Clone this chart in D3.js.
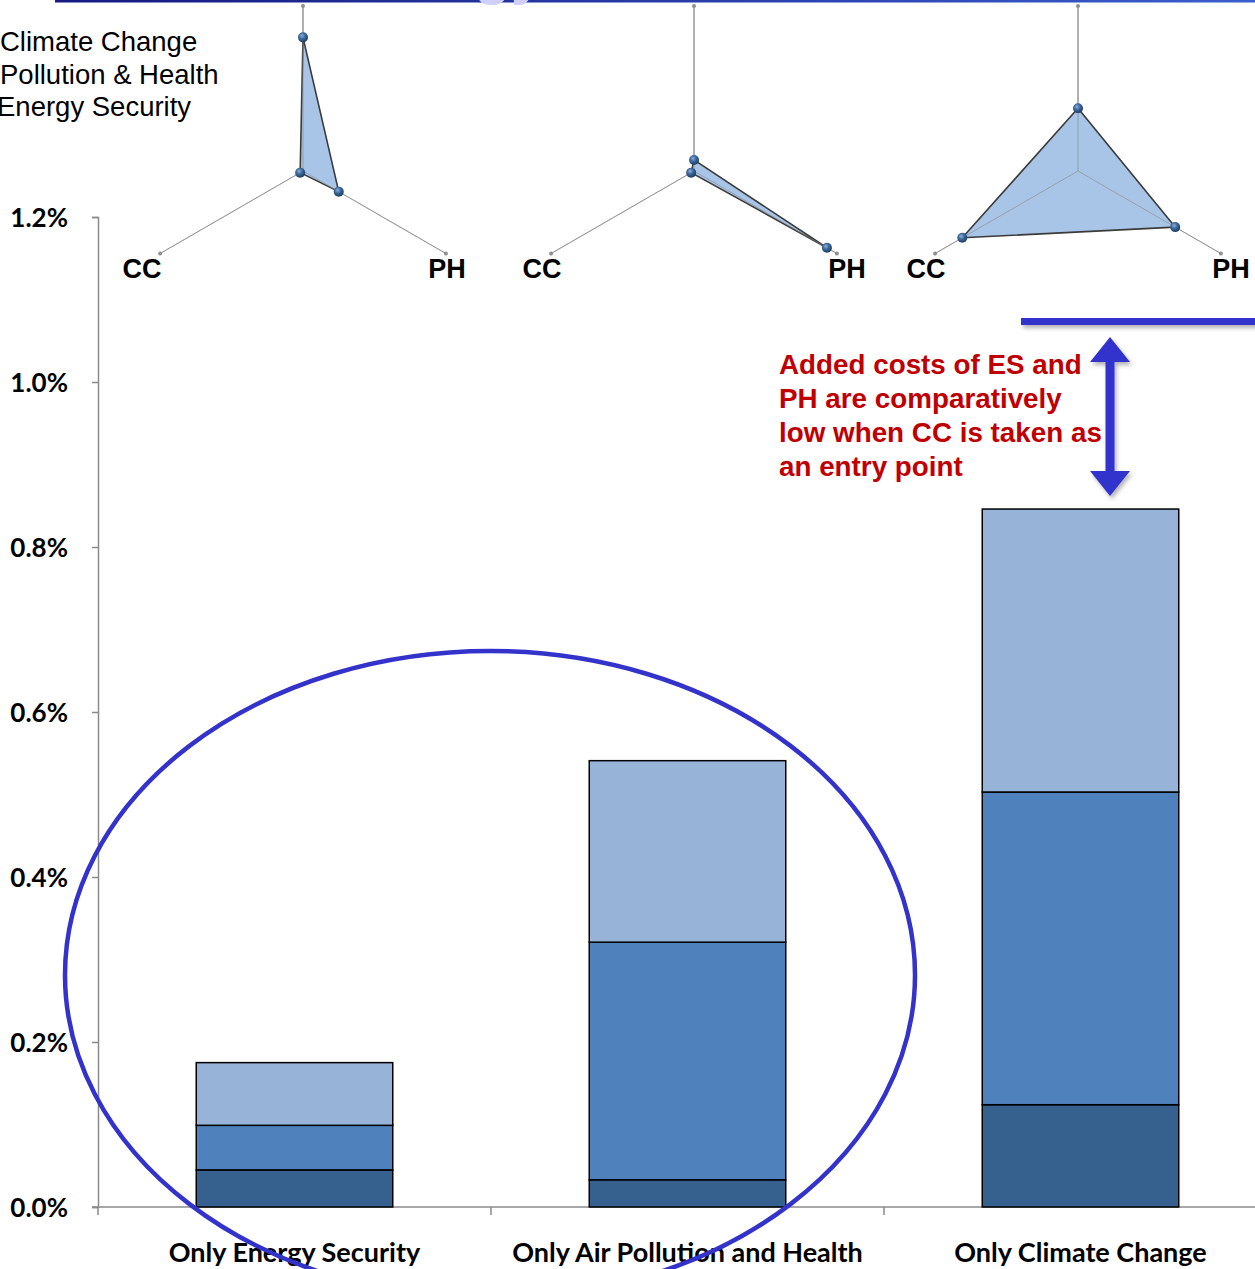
<!DOCTYPE html>
<html>
<head>
<meta charset="utf-8">
<script src="https://cdn.jsdelivr.net/npm/d3@7"></script>
<style>
  html, body { margin: 0; padding: 0; background: #fff; overflow: hidden; }
  svg { display: block; }
</style>
</head>
<body>
<svg id="chart" width="1255" height="1269"></svg>
<script>
// ---- data (values in % of GDP) ----
var categories = ["Only Energy Security", "Only Air Pollution and Health", "Only Climate Change"];
var costBottom = [0.045, 0.033, 0.124];
var costMiddle = [0.054, 0.288, 0.379];
var costTop    = [0.076, 0.220, 0.343];
var yTicks = [0, 0.2, 0.4, 0.6, 0.8, 1.0, 1.2];

// radar insets, share of the axis length
var radarES = [0.81, 0.067, 0.38];
var radarPH = [0.25, 0.93, 0.68];
var radarCC = [0.02, 0.02, 0.81];
var radarLabels = ["CC", "PH"];

var legendItems = ["Climate Change", "Pollution & Health", "Energy Security"];
var noteLines = ["Added costs of ES and", "PH are comparatively", "low when CC is taken as", "an entry point"];

var segColors = ["#36618f", "#4f81bd", "#97b4d8"];
var annotBlue = "#3333cc";

// inset placement (layout, not data)
var radarCx = [303, 694, 1078];
var radarCy = 171;
var labelCC = [142, 542, 926];
var labelPH = [447, 847, 1231];

var svg = d3.select("#chart");
var defs = svg.append("defs");

var grad = defs.append("linearGradient").attr("id", "topline");
grad.append("stop").attr("offset", "0%").attr("stop-color", "#141a80");
grad.append("stop").attr("offset", "100%").attr("stop-color", "#3a5dcf");

var ball = defs.append("radialGradient").attr("id", "ball")
    .attr("cx", "40%").attr("cy", "35%").attr("r", "65%");
ball.append("stop").attr("offset", "0%").attr("stop-color", "#8fb0d8");
ball.append("stop").attr("offset", "45%").attr("stop-color", "#3e6a9e");
ball.append("stop").attr("offset", "100%").attr("stop-color", "#1d3c63");

var shadow = defs.append("filter").attr("id", "shadow")
    .attr("x", "-20%").attr("y", "-50%").attr("width", "140%").attr("height", "200%");
shadow.append("feDropShadow").attr("dx", 2).attr("dy", 3).attr("stdDeviation", 2)
    .attr("flood-color", "#000").attr("flood-opacity", 0.3);

// ---- header remnants ----
svg.append("rect").attr("x", 55).attr("y", 0).attr("width", 1200).attr("height", 2.5)
    .attr("fill", "url(#topline)");
svg.append("text").attr("x", 474).attr("y", -7)
    .attr("font-family", "Liberation Sans, Arial").attr("font-weight", "bold")
    .attr("font-size", 60).attr("fill", "#cfcffa").text("gy");

// legend (cut by left edge)
svg.append("g").selectAll("text").data(legendItems).join("text")
    .attr("x", function (d, i) { return i === 2 ? -3 : 0; })
    .attr("y", function (d, i) { return 51 + i * 32.5; })
    .attr("font-family", "Liberation Sans, Arial").attr("font-size", 27.5)
    .attr("fill", "#000").text(function (d) { return d; });

// ---- main stacked bar chart ----
var y = d3.scaleLinear().domain([0, 1.2]).range([1207, 217]);
var x = d3.scaleBand().domain(categories).range([98, 98 + 393 * 3])
    .paddingInner(0.5).paddingOuter(0.25);

var yAxis = svg.append("g").attr("transform", "translate(98,0)")
    .call(d3.axisLeft(y).tickValues(yTicks).tickSize(6).tickPadding(24)
        .tickFormat(function (d) { return d3.format(".1f")(d) + "%"; }));
yAxis.select(".domain").attr("stroke", "#8a8a8a").attr("stroke-width", 1.5);
yAxis.selectAll(".tick line").attr("stroke", "#8a8a8a").attr("stroke-width", 1.5);
yAxis.selectAll(".tick text").attr("font-family", "Lato, Carlito, sans-serif")
    .attr("font-weight", "bold").attr("font-size", 26).attr("fill", "#000")
    .attr("dy", "0.35em");

svg.append("line").attr("x1", 92).attr("x2", 1255).attr("y1", y(0)).attr("y2", y(0))
    .attr("stroke", "#8a8a8a").attr("stroke-width", 1.5);
svg.append("g").selectAll("line").data(categories).join("line")
    .attr("x1", function (d) { return x(d) - x.step() * 0.25; })
    .attr("x2", function (d) { return x(d) - x.step() * 0.25; })
    .attr("y1", y(0)).attr("y2", y(0) + 8)
    .attr("stroke", "#8a8a8a").attr("stroke-width", 1.5);

var stackRows = categories.map(function (c, i) {
  return { cat: c, bottom: costBottom[i], middle: costMiddle[i], top: costTop[i] };
});
var series = d3.stack().keys(["bottom", "middle", "top"])(stackRows);

svg.append("g").selectAll("g").data(series).join("g")
    .attr("fill", function (d, i) { return segColors[i]; })
  .selectAll("rect").data(function (d) { return d; }).join("rect")
    .attr("x", function (d) { return x(d.data.cat); })
    .attr("width", x.bandwidth())
    .attr("y", function (d) { return y(d[1]); })
    .attr("height", function (d) { return y(d[0]) - y(d[1]); })
    .attr("stroke", "#000").attr("stroke-width", 1.5);

svg.append("g").selectAll("text").data(categories).join("text")
    .attr("x", function (d) { return x(d) + x.bandwidth() / 2; })
    .attr("y", 1262)
    .attr("text-anchor", "middle")
    .attr("font-family", "Lato, Carlito, sans-serif").attr("font-weight", "bold")
    .attr("font-size", 27).attr("fill", "#000")
    .text(function (d) { return d; });

// ---- radar insets ----
var r = d3.scaleLinear().domain([0, 1]).range([0, 165]);
var angES = -Math.PI / 2, angPH = Math.PI / 6, angCC = Math.PI * 5 / 6;

function pt(cx, ang, v) {
  return [cx + Math.cos(ang) * r(v), radarCy + Math.sin(ang) * r(v)];
}

categories.forEach(function (c, i) {
  var cx = radarCx[i];
  var g = svg.append("g");
  [angES, angPH, angCC].forEach(function (a, k) {
    var end = pt(cx, a, 1);
    g.append("line").attr("x1", cx).attr("y1", radarCy).attr("x2", end[0]).attr("y2", end[1])
        .attr("stroke", k === 0 ? "#808080" : "#a6a6a6").attr("stroke-width", 1);
    g.append("circle").attr("cx", end[0]).attr("cy", end[1]).attr("r", 2).attr("fill", "#909090");
  });
  var pts = [pt(cx, angES, radarES[i]), pt(cx, angPH, radarPH[i]), pt(cx, angCC, radarCC[i])];
  g.append("path").attr("d", d3.line()(pts) + "Z")
      .attr("fill", "#a3c2e6").attr("fill-opacity", 0.95)
      .attr("stroke", "#3a3a3a").attr("stroke-width", 1.6).attr("stroke-linejoin", "round");
  // axes show faintly through the fill
  [angES, angPH, angCC].forEach(function (a) {
    var end = pt(cx, a, 1);
    g.append("line").attr("x1", cx).attr("y1", radarCy).attr("x2", end[0]).attr("y2", end[1])
        .attr("stroke", "#8c8c8c").attr("stroke-opacity", 0.6).attr("stroke-width", 1);
  });
  g.selectAll("circle.pt").data(pts).join("circle").attr("class", "pt")
      .attr("cx", function (p) { return p[0]; }).attr("cy", function (p) { return p[1]; })
      .attr("r", 5).attr("fill", "url(#ball)");
  g.selectAll("text").data(radarLabels).join("text")
      .attr("x", function (d) { return d === "CC" ? labelCC[i] : labelPH[i]; })
      .attr("y", 278).attr("text-anchor", "middle")
      .attr("font-family", "Liberation Sans, Arial").attr("font-weight", "bold")
      .attr("font-size", 27).attr("fill", "#000").text(function (d) { return d; });
});

// ---- annotation ----
var note = svg.append("g").attr("filter", "url(#shadow)");
note.append("rect").attr("x", 1021).attr("y", 318).attr("width", 240).attr("height", 7)
    .attr("fill", annotBlue);
var ax = 1110, aTop = 337, aBot = 496, head = 25, hw = 20, sw = 4.5;
note.append("path")
    .attr("d", ["M", ax, aTop, "L", ax + hw, aTop + head, "L", ax + sw, aTop + head,
                "L", ax + sw, aBot - head, "L", ax + hw, aBot - head, "L", ax, aBot,
                "L", ax - hw, aBot - head, "L", ax - sw, aBot - head, "L", ax - sw, aTop + head,
                "L", ax - hw, aTop + head, "Z"].join(" "))
    .attr("fill", annotBlue);

svg.append("g").selectAll("text").data(noteLines).join("text")
    .attr("x", 779).attr("y", function (d, i) { return 374 + i * 34; })
    .attr("font-family", "Liberation Sans, Arial").attr("font-weight", "bold")
    .attr("font-size", 27.8).attr("fill", "#c00000").text(function (d) { return d; });

// ---- ellipse around the first two bars ----
svg.append("ellipse").attr("cx", 490).attr("cy", 975).attr("rx", 425).attr("ry", 324)
    .attr("fill", "none").attr("stroke", annotBlue).attr("stroke-width", 4.5);
</script>
</body>
</html>
